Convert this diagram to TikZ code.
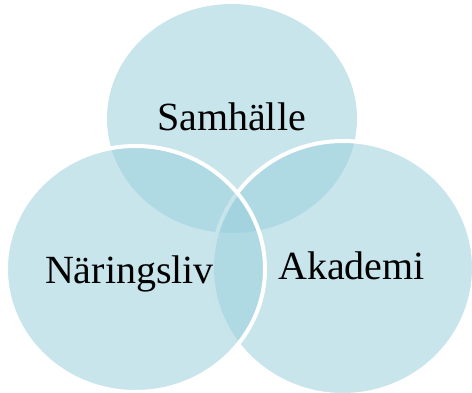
\documentclass[tikz,border=0pt]{standalone}
\usepackage{fontspec}
\setmainfont{Liberation Serif}

\begin{document}
\begin{tikzpicture}[x=0.75pt,y=0.75pt,yscale=-1,xscale=1]
\tikzset{venn/.style={color=white, line width=3pt, fill={rgb, 255:red, 154; green, 207; blue, 220 }, fill opacity=0.55, draw opacity=1},
  venntext/.style={font=\fontsize{30}{36}\selectfont, anchor=base, text=black, text opacity=1}}
\useasboundingbox (0,0) rectangle (472,393);

%Shape: Circle [Samhälle]
\fill [venn] (232,118.5) ellipse [x radius=125, y radius=114.5];
%Shape: Circle [Akademi]
\draw [venn] (343,268) ellipse [x radius=131, y radius=127];
%Shape: Circle [Näringsliv]
\draw [venn] (135.5,269) ellipse [x radius=129.5, y radius=123];

% Text Node
\node [venntext] (samhalle) at (231.5,130) {Samhälle};
% Text Node
\node [venntext] (naringsliv) at (129.5,283) {Näringsliv};
% Text Node
\node [venntext] (akademi) at (351.5,279) {Akademi};

\end{tikzpicture}
\end{document}
